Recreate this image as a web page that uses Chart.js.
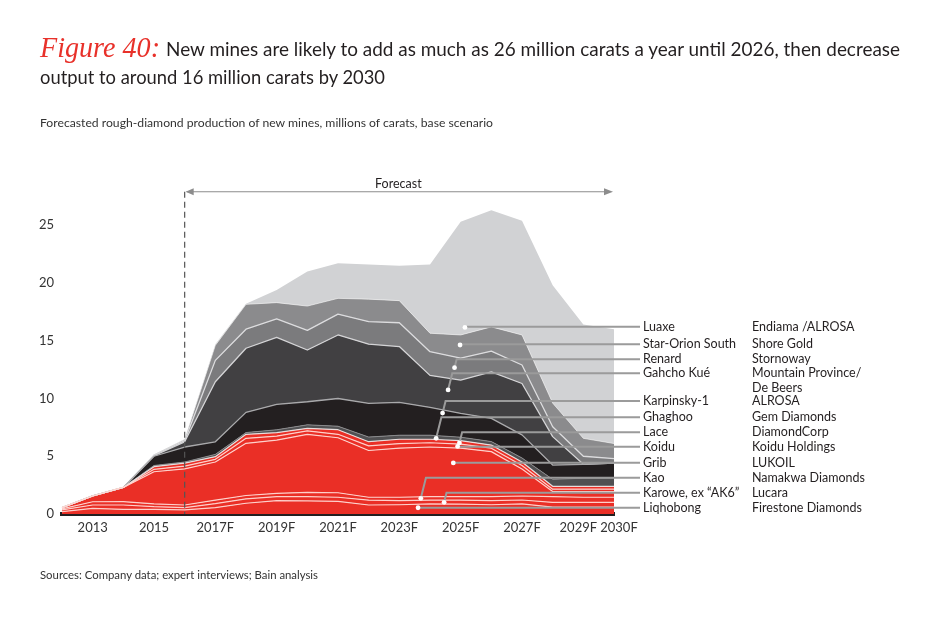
<!DOCTYPE html>
<html><head><meta charset="utf-8">
<script src="https://cdn.jsdelivr.net/npm/chart.js@4.4.1/dist/chart.umd.min.js"></script>
<style>
html,body{margin:0;padding:0;background:#fff;width:950px;height:618px;overflow:hidden;font-family:Lato,"Noto Sans",sans-serif;color:#231f20}
#wrap{position:relative;width:950px;height:618px}
canvas{position:absolute;left:0;top:0}
.t{position:absolute;white-space:nowrap;transform-origin:0 50%}
</style></head><body>
<div id="wrap">
<canvas id="c" width="950" height="618"></canvas>
<div class="t" data-w="120" style="left:40px;top:29px;font:italic 30px/36px 'Liberation Serif';color:#e8312a">Figure 40:</div>
<div class="t" data-w="734" style="left:166px;top:36px;font:20px/24px Lato;color:#231f20">New mines are likely to add as much as 26 million carats a year until 2026, then decrease</div>
<div class="t" data-w="345" style="left:40px;top:64px;font:20px/24px Lato;color:#231f20">output to around 16 million carats by 2030</div>
<div class="t" data-w="453" style="left:40px;top:116px;font:11.5px/14px Lato;color:#333">Forecasted rough-diamond production of new mines, millions of carats, base scenario</div>
<div class="t" data-w="278" style="left:40px;top:568px;font:11px/14px Lato;color:#333">Sources: Company data; expert interviews; Bain analysis</div>
</div>
<script>
// ---- data ----
const years = ['2012','2013','2014','2015','2016','2017F','2018F','2019F','2020F','2021F','2022F','2023F','2024F','2025F','2026F','2027F','2028F','2029F','2030F'];
const tickLabels = ['2013','2015','2017F','2019F','2021F','2023F','2025F','2027F','2029F','2030F'];
const yTicks = [0,5,10,15,20,25];

const liqhobong = [0.2,0.49,0.4,0.4,0.35,0.55,0.93,1.15,1.13,1.1,0.78,0.8,0.87,0.85,0.8,0.87,0.6,0.6,0.6];
const karowe    = [0.15,0.29,0.38,0.23,0.2,0.35,0.38,0.35,0.37,0.35,0.42,0.35,0.33,0.35,0.35,0.34,0.4,0.4,0.4];
const kao       = [0.1,0.28,0.29,0.24,0.23,0.3,0.29,0.29,0.38,0.39,0.25,0.3,0.3,0.3,0.35,0.35,0.5,0.45,0.45];
const grib      = [0.1,0.5,1.23,2.79,3.12,3.3,4.52,4.61,5.02,4.76,4.05,4.25,4.3,4.2,3.9,2.34,0.45,0.5,0.5];
const koidu     = [0,0,0,0.21,0.25,0.23,0.43,0.35,0.3,0.3,0.4,0.4,0.37,0.35,0.3,0.3,0.2,0.2,0.2];
const lace      = [0,0,0,0.23,0.25,0.23,0.35,0.29,0.22,0.4,0.36,0.37,0.3,0.3,0.27,0.3,0.25,0.25,0.25];
const ghaghoo   = [0,0,0,0.1,0.1,0.2,0.15,0.25,0.3,0.3,0.4,0.35,0.35,0.3,0.3,0.35,0.6,0.7,0.7];
const karpinsky = [0,0,0,0.8,1.3,1.09,1.75,2.21,2.0,2.4,2.92,2.85,2.42,2.07,2.01,2.0,1.24,1.2,1.3];
const gahchoKue = [0,0,0,0.05,0.45,5.2,5.55,5.8,4.48,5.5,5.12,4.83,2.76,2.88,4.02,4.45,2.46,0,0];
const renard    = [0,0,0,0.05,0.1,1.85,1.65,1.6,1.7,1.8,1.95,2.06,2.05,1.9,1.8,1.6,0.86,0.7,0.4];
const starOrion = [0,0,0,0.05,0.1,1.3,2.15,1.4,2.1,1.37,1.95,1.91,1.6,2.0,2.1,2.6,2.04,1.55,1.3];
const luaxe     = [0,0,0,0,0.05,0.1,0.05,1.1,3.0,3.03,3.0,3.03,5.95,9.8,10.1,9.9,10.2,9.85,9.9];

const mineNames = ['Liqhobong','Karowe, ex \u201cAK6\u201d','Kao','Grib','Koidu','Lace','Ghaghoo','Karpinsky-1','Gahcho Kué','Renard','Star-Orion South','Luaxe'];
const companies = ['Firestone Diamonds','Lucara','Namakwa Diamonds','LUKOIL','Koidu Holdings','DiamondCorp','Gem Diamonds','ALROSA','Mountain Province/\nDe Beers','Stornoway','Shore Gold','Endiama /ALROSA'];
const seriesValues = [liqhobong,karowe,kao,grib,koidu,lace,ghaghoo,karpinsky,gahchoKue,renard,starOrion,luaxe];
// leader dot anchors (year index, value)
const dotX = [11.61,12.46,11.70,12.76,12.90,12.96,12.20,12.41,12.59,12.80,12.98,13.14];
const dotY = [0.54,1.01,1.36,4.42,5.85,6.15,6.55,8.74,10.74,12.67,14.63,16.15];
const forecastStart = 4;   // 2016
const arrowLevel = 27.9;

// ---- styles ----
const RED = '#ea2f26';
const fills = [RED,RED,RED,RED,RED,RED,'#505052','#231f20','#414042','#7b7b7d','#8b8b8d','#d1d2d4'];
const lines = ['rgba(255,215,210,0.95)','rgba(255,215,210,0.95)','rgba(255,215,210,0.95)','rgba(255,215,210,0.95)','rgba(255,215,210,0.95)','rgba(235,235,235,0.9)','#8a8a8c','#a9a9ab','#d4d4d6','#dcdcde','rgba(255,255,255,0.55)','rgba(0,0,0,0)'];
const lineW = [1.2,1.2,1.2,1.2,1.2,1.2,1,1.3,1.3,1.3,1,0];
const labelRows = [507.7,492.7,477.7,462.7,446.7,432.3,417.3,401,373.3,359.3,344.3,326.7];

Chart.defaults.font.family = 'Lato, "Noto Sans", sans-serif';
Chart.defaults.color = '#333';

const datasets = seriesValues.map((v,i)=>({
  label: mineNames[i],
  data: v,
  backgroundColor: fills[i],
  borderColor: lines[i],
  borderWidth: lineW[i],
  fill: i===0 ? 'origin' : '-1',
  pointRadius: 0,
  tension: 0,
  borderJoinStyle: 'round'
}));

const annot = {
  id: 'annot',
  afterDraw(chart) {
    const {ctx, scales:{x, y}} = chart;
    ctx.save();
    // dashed forecast line
    const xf = x.getPixelForValue(forecastStart);
    const ya = y.getPixelForValue(arrowLevel);
    const y0 = y.getPixelForValue(0);
    ctx.strokeStyle = '#555'; ctx.lineWidth = 1.2; ctx.setLineDash([6,4]);
    ctx.beginPath(); ctx.moveTo(xf, ya); ctx.lineTo(xf, y0); ctx.stroke();
    ctx.setLineDash([]);
    // forecast arrow
    const xe = x.getPixelForValue(years.length-1) - 2;
    ctx.strokeStyle = '#8c8c8c'; ctx.lineWidth = 1.2;
    ctx.beginPath(); ctx.moveTo(xf+2, ya); ctx.lineTo(xe-2, ya); ctx.stroke();
    ctx.fillStyle = '#8c8c8c';
    ctx.beginPath(); ctx.moveTo(xf+1, ya); ctx.lineTo(xf+9, ya-3.5); ctx.lineTo(xf+9, ya+3.5); ctx.closePath(); ctx.fill();
    ctx.beginPath(); ctx.moveTo(xe+1, ya); ctx.lineTo(xe-8, ya-3.5); ctx.lineTo(xe-8, ya+3.5); ctx.closePath(); ctx.fill();
    ctx.fillStyle = '#231f20'; ctx.font = '12.5px Lato'; ctx.textAlign = 'center'; ctx.textBaseline = 'alphabetic';
    ctx.fillText('Forecast', (xf+xe)/2, ya-4);

    // x tick labels
    ctx.font = '13px Lato'; ctx.fillStyle = '#333'; ctx.textBaseline = 'middle';
    tickLabels.forEach(lb => {
      const idx = years.indexOf(lb) >= 0 ? years.indexOf(lb) : years.indexOf(lb+'F');
      let px = x.getPixelForValue(idx);
      if (lb === '2029F') px -= 5;
      if (lb === '2030F') px += 5;
      ctx.fillText(lb, px, y0 + 14);
    });

    // leader lines
    const xEnd = 640;
    ctx.strokeStyle = '#9b9b9b'; ctx.lineWidth = 2; ctx.lineJoin = 'miter';
    for (let i = 0; i < mineNames.length; i++) {
      const px = x.getPixelForValue(dotX[i]);
      const py = y.getPixelForValue(dotY[i]);
      const ry = labelRows[i];
      const dy = Math.abs(py - ry);
      ctx.beginPath();
      ctx.moveTo(px, py);
      if (dy > 2) ctx.lineTo(px + 0.25*dy, ry);
      else ctx.lineTo(px, ry);
      ctx.lineTo(xEnd, ry);
      ctx.stroke();
    }
    ctx.fillStyle = '#fff';
    for (let i = 0; i < mineNames.length; i++) {
      const px = x.getPixelForValue(dotX[i]);
      const py = y.getPixelForValue(dotY[i]);
      ctx.beginPath(); ctx.arc(px, py, 2.4, 0, Math.PI*2); ctx.fill();
    }
    // labels
    ctx.fillStyle = '#231f20'; ctx.font = '12.5px Lato'; ctx.textAlign = 'left'; ctx.textBaseline = 'middle';
    for (let i = 0; i < mineNames.length; i++) {
      ctx.fillText(mineNames[i], 643, labelRows[i]);
      const parts = companies[i].split('\n');
      parts.forEach((p,k) => ctx.fillText(p, 752, labelRows[i] + k*15));
    }
    ctx.restore();
  }
};

new Chart(document.getElementById('c'), {
  type: 'line',
  data: { labels: years, datasets },
  options: {
    responsive: false,
    animation: false,
    events: [],
    layout: { padding: { top: 167.5, left: 0, right: 336, bottom: 74 } },
    plugins: {
      legend: { display: false },
      tooltip: { enabled: false },
      filler: { drawTime: 'beforeDatasetsDraw' }
    },
    scales: {
      x: {
        z: 1,
        grid: { display: false, drawTicks: false },
        border: { display: true, color: '#231f20', width: 4 },
        ticks: { display: false },
        afterFit: s => { s.height = 30; }
      },
      y: {
        stacked: true,
        min: 0, max: 30,
        grid: { display: false, drawTicks: false },
        border: { display: false },
        afterBuildTicks: s => { s.ticks = yTicks.map(v => ({ value: v })); },
        ticks: { padding: 8, font: { size: 13 }, color: '#333' },
        afterFit: s => { s.width = 62; }
      }
    }
  },
  plugins: [annot]
});

// fit title/text widths
document.querySelectorAll('.t[data-w]').forEach(el => {
  const w = el.getBoundingClientRect().width;
  const target = +el.dataset.w;
  if (w > 0) el.style.transform = 'scaleX(' + (target / w) + ')';
});
</script>
</body></html>
